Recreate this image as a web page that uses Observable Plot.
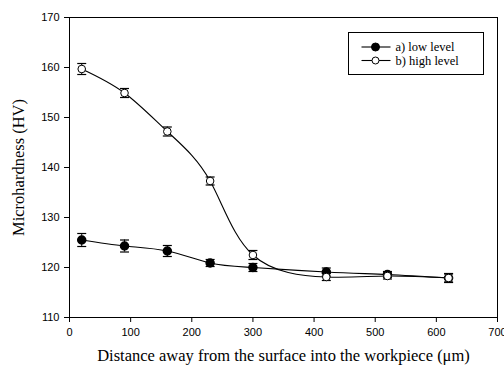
<!DOCTYPE html>
<html>
<head>
<meta charset="utf-8">
<script src="https://cdn.jsdelivr.net/npm/d3@7"></script>
<script src="https://cdn.jsdelivr.net/npm/@observablehq/plot@0.6"></script>
<style>
  html, body { margin: 0; padding: 0; background: #fff; }
  #chart { position: relative; width: 504px; height: 369px; }
  #chart svg { display: block; }
  #chart g[aria-label="x-axis label"] text,
  #chart g[aria-label="y-axis label"] text {
    font-family: "Liberation Serif", "Times New Roman", serif;
    font-size: 16.5px;
  }
</style>
</head>
<body>
<div id="chart"></div>
<script>
// Depth below the machined surface (µm)
const distance = [20, 90, 160, 230, 300, 420, 520, 620];

// a) low level: mean microhardness and error
const lowLevel = [125.5, 124.3, 123.3, 120.9, 120.0, 119.1, 118.6, 117.9];
const lowError = [1.3, 1.2, 1.1, 0.7, 0.8, 0.8, 0.6, 0.8];

// b) high level: mean microhardness and error
const highLevel = [159.7, 154.9, 147.2, 137.3, 122.5, 118.1, 118.3, 117.9];
const highError = [1.1, 0.9, 0.9, 0.8, 0.9, 0.7, 0.6, 0.9];

const seriesNames = ["a) low level", "b) high level"];
const xTicks = [0, 100, 200, 300, 400, 500, 600, 700];
const yTicks = [110, 120, 130, 140, 150, 160, 170];

const xLabel = "Distance away from the surface into the workpiece (\u03bcm)";
const yLabel = "Microhardness (HV)";

const low = distance.map((x, i) => ({x, y: lowLevel[i], e: lowError[i]}));
const high = distance.map((x, i) => ({x, y: highLevel[i], e: highError[i]}));

// horizontal cap drawn as a dot symbol so its width stays in pixels
const cap = {
  draw(context, size) {
    const r = Math.sqrt(size / Math.PI);
    context.moveTo(-r, 0);
    context.lineTo(r, 0);
  }
};

function errorBars(data) {
  return [
    Plot.ruleX(data, {x: "x", y1: d => d.y - d.e, y2: d => d.y + d.e, stroke: "black", strokeWidth: 1}),
    Plot.dot(data, {x: "x", y: d => d.y - d.e, symbol: cap, r: 4.5, stroke: "black", strokeWidth: 1.2}),
    Plot.dot(data, {x: "x", y: d => d.y + d.e, symbol: cap, r: 4.5, stroke: "black", strokeWidth: 1.2})
  ];
}

const width = 504, height = 369;
const margin = {left: 69, right: 7, top: 17, bottom: 52};

const chart = Plot.plot({
  width, height,
  marginLeft: margin.left, marginRight: margin.right,
  marginTop: margin.top, marginBottom: margin.bottom,
  style: {fontFamily: "'Liberation Sans', Arial, sans-serif", fontSize: "11px", color: "black", background: "white"},
  x: {domain: [0, 700]},
  y: {domain: [110, 170]},
  marks: [
    Plot.line(high, {x: "x", y: "y", curve: "natural", stroke: "black", strokeWidth: 1.1}),
    Plot.line(low, {x: "x", y: "y", curve: "natural", stroke: "black", strokeWidth: 1.1}),
    ...errorBars(high),
    ...errorBars(low),
    Plot.dot(low, {x: "x", y: "y", r: 4, fill: "black", stroke: "black"}),
    Plot.dot(high, {x: "x", y: "y", r: 3.8, fill: "white", stroke: "black", strokeWidth: 1}),
    Plot.frame({stroke: "black", strokeWidth: 1}),
    Plot.axisX({ticks: xTicks, tickSize: 5, tickPadding: 6, label: xLabel, labelAnchor: "center", labelArrow: "none", labelOffset: 43}),
    Plot.axisY({ticks: yTicks, tickSize: 5, tickPadding: 5, label: yLabel, labelAnchor: "center", labelArrow: "none", labelOffset: 57})
  ]
});

document.getElementById("chart").appendChild(chart);

// Legend box in the upper right corner of the plot area
const svg = d3.select(chart);
const lg = svg.append("g").attr("class", "legend").attr("text-anchor", "start");
const box = {x: 348.5, y: 32.5, w: 135, h: 42};
lg.append("rect")
  .attr("x", box.x).attr("y", box.y).attr("width", box.w).attr("height", box.h)
  .attr("fill", "white").attr("stroke", "black").attr("stroke-width", 1);
const rows = [
  {name: seriesNames[0], fill: "black", r: 4},
  {name: seriesNames[1], fill: "white", r: 3.5}
];
rows.forEach((row, i) => {
  const cy = box.y + 14.5 + i * 13.5;
  lg.append("line").attr("x1", box.x + 13).attr("x2", box.x + 42)
    .attr("y1", cy).attr("y2", cy).attr("stroke", "black").attr("stroke-width", 1.1);
  lg.append("circle").attr("cx", box.x + 27).attr("cy", cy).attr("r", row.r)
    .attr("fill", row.fill).attr("stroke", "black").attr("stroke-width", 1);
  lg.append("text").attr("x", box.x + 47).attr("y", cy).attr("dy", "0.35em")
    .attr("text-anchor", "start")
    .attr("font-family", "'Liberation Serif', 'Times New Roman', serif")
    .attr("font-size", "12.5px").attr("fill", "black")
    .text(row.name);
});
</script>
</body>
</html>
